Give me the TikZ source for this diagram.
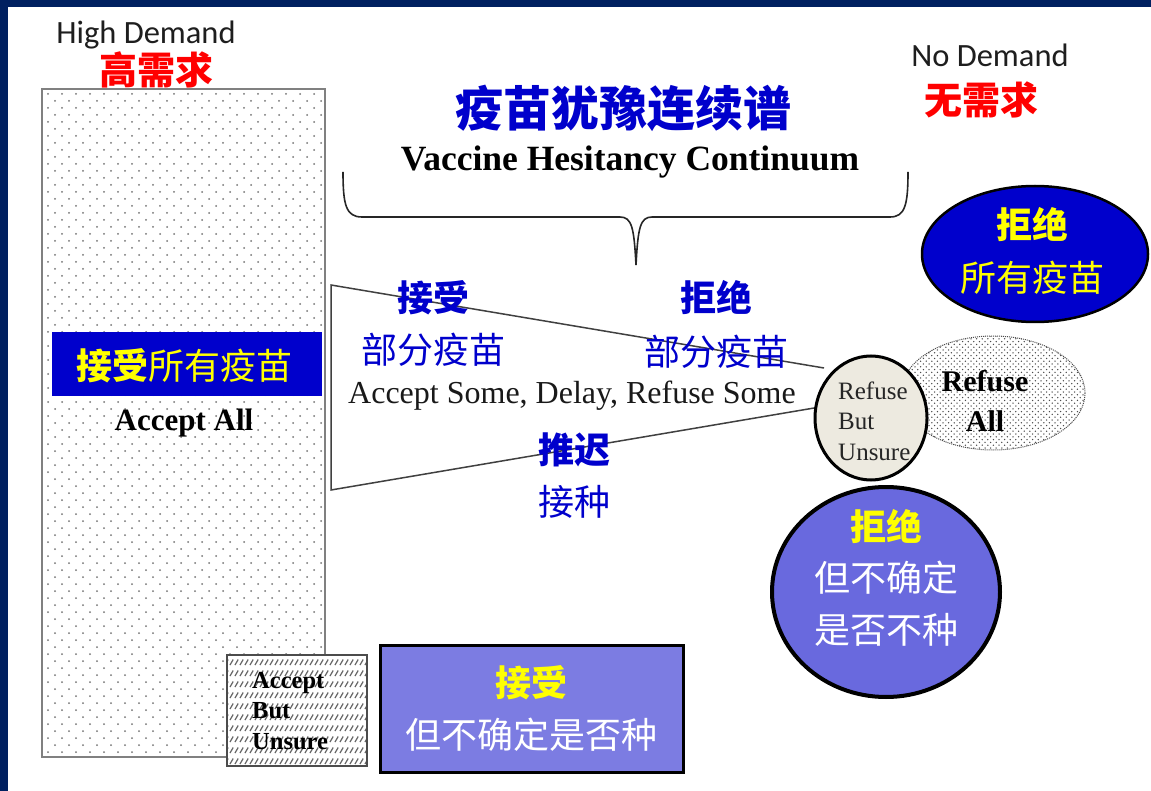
\documentclass[tikz,border=0pt]{standalone}
\usepackage{fontspec}
\setmainfont{Liberation Serif}
\newfontfamily\cjk{Noto Sans CJK SC}
\newfontfamily\calib{Carlito}
\usetikzlibrary{shapes.geometric}
\definecolor{navy}{RGB}{0,32,96}
\definecolor{vblue}{RGB}{0,0,204}
\definecolor{vred}{RGB}{255,0,0}
\definecolor{vyellow}{RGB}{255,255,0}
\definecolor{boxpurple}{RGB}{124,124,226}
\definecolor{circpurple}{RGB}{105,105,222}
\definecolor{beige}{RGB}{237,234,224}
\definecolor{txtgray}{RGB}{30,30,30}
\begin{document}
\begin{tikzpicture}[x=1pt,y=-1pt,
  cjkreg/.style={font=\cjk\fontsize{36}{40}\selectfont, inner sep=0pt},
  cjkbold/.style={font=\cjk\bfseries\fontsize{36}{40}\selectfont, inner sep=0pt},
  shapebox/.style={inner sep=0pt, outer sep=0pt},
  demand/.style={font=\calib\fontsize{32.5}{34}\selectfont, text=txtgray, inner sep=0pt},
  serifbold/.style={font=\bfseries, text=black, inner sep=0pt, align=left},
  edge/.style={draw=black!75, line width=1.5pt},
  dotmark/.style={fill=black!55},
  finedot/.style={fill=black!70}
]
\useasboundingbox (0,0) rectangle (1151,791);
\fill[white] (0,0) rectangle (1151,791);
\fill[navy] (0,0) rectangle (1151,7);
\fill[navy] (0,0) rectangle (8,791);

% Accept all rectangle
\node[shapebox, minimum width=283pt, minimum height=668pt] (acceptall) at (183.5,423) {};
\begin{scope}
  \clip (acceptall.north west) rectangle (acceptall.south east);
  \foreach \r in {0,...,95} {
    \pgfmathsetmacro\yy{94+7*\r}
    \pgfmathsetmacro\xo{mod(\r,2)*7}
    \fill[dotmark] \foreach \c in {0,...,20} {(48+\xo+14*\c,\yy) circle (1.0)};
  }
\end{scope}
\draw[draw=gray, line width=1.5pt] (acceptall.north west) rectangle (acceptall.south east);
\node[shapebox, fill=vblue, minimum width=270pt, minimum height=64pt] (bluebar) at (187,364) {};
\node[cjkreg, text=vyellow] (acceptalltxt) at (184,366) {{\bfseries 接受}所有疫苗};
\node[serifbold, font=\bfseries\fontsize{31}{34}\selectfont] (acceptallen) at (184,423) {Accept All};

% Accept but unsure
\node[shapebox, fill=white, minimum width=140pt, minimum height=111pt] (abu) at (297,710.5) {};
\begin{scope}
  \clip (abu.north west) rectangle (abu.south east);
  \foreach \r in {0,...,10} {
    \pgfmathsetmacro\yy{662+11*\r}
    \draw[line width=1.2pt, black!60] \foreach \c in {0,...,29} {(225+5*\c,\yy+3) -- ++(3.2,-5.5)};
  }
\end{scope}
\draw[draw=black!70, line width=1.5pt] (abu.north west) rectangle (abu.south east);
\node[serifbold, font=\bfseries\fontsize{24.5}{30.5}\selectfont, anchor=west] (abutxt) at (252,711) {Accept\\But\\Unsure};

% purple box
\node[shapebox, draw=black, line width=3pt, fill=boxpurple, minimum width=303pt, minimum height=127pt] (pbox) at (531.5,708.5) {};
\node[cjkbold, text=vyellow] (pboxa) at (531,683) {接受};
\node[cjkreg, text=white] (pboxb) at (531,735) {但不确定是否种};

% demand labels
\node[demand] (high) at (146,35) {High Demand};
\node[cjkbold, text=vred, font=\cjk\bfseries\fontsize{38}{40}\selectfont] (highcn) at (156,70) {高需求};
\node[demand] (nodem) at (990,55) {No Demand};
\node[cjkbold, text=vred, font=\cjk\bfseries\fontsize{38}{40}\selectfont] (nodemcn) at (981,100) {无需求};

% title
\node[cjkbold, text=vblue, font=\cjk\bfseries\fontsize{48}{50}\selectfont] (title) at (623,108) {疫苗犹豫连续谱};
\node[serifbold, font=\bfseries\fontsize{35.5}{38}\selectfont] (titleen) at (630,162) {Vaccine Hesitancy Continuum};

% brace
\coordinate (bl0) at (343,172);
\coordinate (br0) at (908,172);
\coordinate (btip) at (636,265);
\draw[line width=1.6pt, black!85] (bl0) .. controls (343,205) and (346,217) .. (362,217) -- (620,217)
  .. controls (632,217) and (634,228) .. (btip)
  .. controls (638,228) and (640,217) .. (652,217) -- (890,217)
  .. controls (905,217) and (908,205) .. (br0);

% refuse all ellipse (behind)
\node[shapebox, ellipse, fill=white, minimum width=184pt, minimum height=114pt] (refall) at (993,393) {};
\begin{scope}
  \clip (993,393) ellipse (92 and 57);
  \foreach \r in {0,...,41} {
    \pgfmathsetmacro\yy{336+2.8*\r}
    \pgfmathsetmacro\xo{mod(\r,2)*2.8}
    \fill[finedot] \foreach \c in {0,...,33} {(901+\xo+5.6*\c,\yy) circle (0.75)};
  }
\end{scope}
\draw[black!70, densely dotted, line width=1pt] (993,393) ellipse (92 and 57);
\node[serifbold, align=center, font=\bfseries\fontsize{30}{40}\selectfont] (refalltxt) at (985,401) {Refuse\\All};

% trapezoid
\coordinate (tl) at (331,285);
\coordinate (bl) at (331,490);
\coordinate (tr) at (824,368);
\coordinate (br) at (820,407);
\draw[edge] (tr) -- (tl) -- (bl) -- (br);

% refuse but unsure circle
\node[shapebox, ellipse, draw=black, line width=3pt, fill=beige, minimum width=112pt, minimum height=124pt] (rbu) at (871,418) {};
\node[inner sep=0pt, align=left, anchor=west, font=\fontsize{25}{30.5}\selectfont, text=black!85] (rbutxt) at (838,421) {Refuse\\But\\Unsure};

% continuum labels
\node[font=\fontsize{32}{34}\selectfont, inner sep=0pt, text=black!90] (asdrs) at (572,396) {Accept Some, Delay, Refuse Some};
\node[cjkbold, text=vblue] (acc1) at (433,298) {接受};
\node[cjkreg, text=vblue] (acc2) at (433,350) {部分疫苗};
\node[cjkbold, text=vblue] (ref1) at (716,298) {拒绝};
\node[cjkreg, text=vblue] (ref2) at (716,352) {部分疫苗};
\node[cjkbold, text=vblue] (del1) at (574,450) {推迟};
\node[cjkreg, text=vblue] (del2) at (574,502) {接种};

% blue ellipse
\node[shapebox, ellipse, draw=black, line width=2.5pt, fill=vblue, minimum width=226pt, minimum height=136pt] (blueell) at (1035,254) {};
\node[cjkbold, text=vyellow] (be1) at (1032,225) {拒绝};
\node[cjkreg, text=vyellow] (be2) at (1032,278) {所有疫苗};

% purple circle
\node[shapebox, ellipse, draw=black, line width=4pt, fill=circpurple, minimum width=228pt, minimum height=210pt] (pcirc) at (886,592) {};
\node[cjkbold, text=vyellow] (pc1) at (886,527) {拒绝};
\node[cjkreg, text=white] (pc2) at (886,578) {但不确定};
\node[cjkreg, text=white] (pc3) at (886,630) {是否不种};
\end{tikzpicture}
\end{document}
